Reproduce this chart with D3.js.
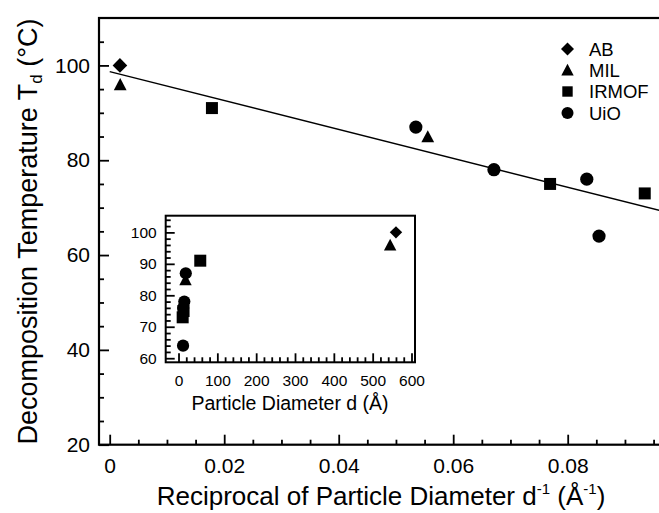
<!DOCTYPE html>
<html>
<head>
<meta charset="utf-8">
<script src="https://cdn.jsdelivr.net/npm/d3@7"></script>
<style>
  html, body { margin: 0; padding: 0; background: #fff; }
  svg { display: block; font-family: "Liberation Sans", Arial, Helvetica, sans-serif; }
</style>
</head>
<body>
<svg id="chart" width="659" height="513"></svg>
<script>
// Framework families and their marker shapes
const seriesNames  = ["AB", "MIL", "IRMOF", "UiO"];
const seriesShapes = ["diamond", "triangle", "square", "circle"];

// Particle diameter d (Å) and decomposition temperature Td (°C) per family
const abDiameter    = [560];
const abTemp        = [100];
const milDiameter   = [545, 18.0];
const milTemp       = [96, 85];
const irmofDiameter = [56, 13.0, 10.7];
const irmofTemp     = [91, 75, 73];
const uioDiameter   = [18.7, 14.9, 12.0, 11.7];
const uioTemp       = [87, 78, 76, 64];

// Linear fit of Td against 1/d
const fitIntercept = 98.7;
const fitSlope     = -305;

// Axis ticks
const mainXTicks  = [0, 0.02, 0.04, 0.06, 0.08];
const mainYTicks  = [20, 40, 60, 80, 100];
const insetXTicks = [0, 100, 200, 300, 400, 500, 600];
const insetYTicks = [60, 70, 80, 90, 100];

const diameters = [abDiameter, milDiameter, irmofDiameter, uioDiameter];
const temps     = [abTemp, milTemp, irmofTemp, uioTemp];
const series = seriesNames.map((name, i) => ({
  name,
  shape: seriesShapes[i],
  points: diameters[i].map((d, j) => ({ d, t: temps[i][j] }))
}));

const svg = d3.select("#chart");

// Marker path centred on (0,0); s = half-size
function markerPath(shape, s) {
  switch (shape) {
    case "diamond":  return `M0,${-s}L${s},0L0,${s}L${-s},0Z`;
    case "triangle": return `M0,${-s}L${s},${s * 0.9}L${-s},${s * 0.9}Z`;
    case "square":   return `M${-s},${-s}H${s}V${s}H${-s}Z`;
    default:         return `M${s},0A${s},${s} 0 1,1 ${-s},0A${s},${s} 0 1,1 ${s},0Z`;
  }
}
const mainSize   = { diamond: 7.3, triangle: 6.4, square: 6, circle: 6.6 };
const insetSize  = { diamond: 6.2, triangle: 6.2, square: 6, circle: 6.1 };
const legendSize = { diamond: 6.5, triangle: 6.2, square: 5.2, circle: 6 };

// ---------- main plot ----------
const x = d3.scaleLinear().domain([-0.00187, 0.1]).range([99, 682.2]);
const y = d3.scaleLinear().domain([20, 110]).range([444.7, 18]);

const mainXMinor = d3.range(0, 0.0999, 0.005).filter(v => Math.abs(v / 0.02 - Math.round(v / 0.02)) > 1e-6);
const mainYMinor = d3.range(25, 109, 5).filter(v => v % 20 !== 0);

function styleAxis(g, fontSize) {
  g.attr("font-family", null).attr("font-size", fontSize);
  g.select(".domain").remove();
  g.selectAll("line").attr("stroke", "#000").attr("stroke-width", 1.8);
  g.selectAll("text").attr("fill", "#000");
}

const fmtMain = v => v === 0 ? "0" : d3.format(".2f")(v);

svg.append("g")
  .attr("transform", `translate(0,${y(20)})`)
  .call(d3.axisBottom(x).tickValues(mainXTicks).tickFormat(fmtMain).tickSize(-10).tickPadding(13))
  .call(g => styleAxis(g, 21));
svg.append("g")
  .attr("transform", `translate(0,${y(20)})`)
  .call(d3.axisBottom(x).tickValues(mainXMinor).tickFormat("").tickSize(-5))
  .call(g => styleAxis(g, 21));

svg.append("g")
  .attr("transform", `translate(${x.range()[0]},0)`)
  .call(d3.axisLeft(y).tickValues(mainYTicks).tickSize(-10).tickPadding(9))
  .call(g => styleAxis(g, 21));
svg.append("g")
  .attr("transform", `translate(${x.range()[0]},0)`)
  .call(d3.axisLeft(y).tickValues(mainYMinor).tickFormat("").tickSize(-5))
  .call(g => styleAxis(g, 21));

// plot frame
svg.append("rect")
  .attr("x", x.range()[0]).attr("y", y.range()[1])
  .attr("width", x.range()[1] - x.range()[0])
  .attr("height", y.range()[0] - y.range()[1])
  .attr("fill", "none").attr("stroke", "#000").attr("stroke-width", 2.2);

// fit line
const fitX = [0, 0.1];
svg.append("path")
  .datum(fitX.map(v => [v, fitIntercept + fitSlope * v]))
  .attr("d", d3.line().x(p => x(p[0])).y(p => y(p[1])))
  .attr("fill", "none").attr("stroke", "#000").attr("stroke-width", 1.4);

// points against 1/d
series.forEach(s => {
  svg.append("g").selectAll("path")
    .data(s.points)
    .join("path")
    .attr("transform", p => `translate(${x(1 / p.d)},${y(p.t)})`)
    .attr("d", markerPath(s.shape, mainSize[s.shape]))
    .attr("fill", "#000");
});

// legend
const legendY = [49, 70, 91.5, 113];
const legend = svg.append("g");
series.forEach((s, i) => {
  legend.append("path")
    .attr("transform", `translate(567.5,${legendY[i]})`)
    .attr("d", markerPath(s.shape, legendSize[s.shape]))
    .attr("fill", "#000");
  legend.append("text")
    .attr("x", 589).attr("y", legendY[i] + 6.5)
    .attr("font-size", 18.5).attr("fill", "#000")
    .text(s.name);
});

// axis titles
const yTitle = svg.append("text")
  .attr("transform", "rotate(-90)")
  .attr("x", -231.5).attr("y", 36.5)
  .attr("text-anchor", "middle").attr("font-size", 27).attr("fill", "#000");
yTitle.append("tspan").text("Decomposition Temperature T");
yTitle.append("tspan").attr("font-size", 17).attr("dy", 5).text("d");
yTitle.append("tspan").attr("dy", -5).text(" (°C)");

const xTitle = svg.append("text")
  .attr("x", 381).attr("y", 505)
  .attr("text-anchor", "middle").attr("font-size", 26).attr("fill", "#000");
xTitle.append("tspan").text("Reciprocal of Particle Diameter d");
xTitle.append("tspan").attr("font-size", 15).attr("dy", -11).text("-1");
xTitle.append("tspan").attr("dy", 11).text(" (Å");
xTitle.append("tspan").attr("font-size", 15).attr("dy", -11).text("-1");
xTitle.append("tspan").attr("dy", 11).text(")");

// ---------- inset: Td against d ----------
const xi = d3.scaleLinear().domain([-33, 609]).range([165.7, 415]);
const yi = d3.scaleLinear().domain([58.7, 105.3]).range([362.3, 215.7]);
const insetXMinor = d3.range(0, 601, 20).filter(v => v % 100 !== 0);
const insetYMinor = d3.range(60, 105, 2).filter(v => v % 10 !== 0);

svg.append("rect")
  .attr("x", xi.range()[0]).attr("y", yi.range()[1])
  .attr("width", xi.range()[1] - xi.range()[0])
  .attr("height", yi.range()[0] - yi.range()[1])
  .attr("fill", "#fff");

svg.append("g")
  .attr("transform", `translate(0,${yi.range()[0]})`)
  .call(d3.axisBottom(xi).tickValues(insetXTicks).tickSize(-9).tickPadding(13))
  .call(g => styleAxis(g, 15.5));
svg.append("g")
  .attr("transform", `translate(0,${yi.range()[0]})`)
  .call(d3.axisBottom(xi).tickValues(insetXMinor).tickFormat("").tickSize(-5))
  .call(g => styleAxis(g, 15.5));
svg.append("g")
  .attr("transform", `translate(${xi.range()[0]},0)`)
  .call(d3.axisLeft(yi).tickValues(insetYTicks).tickSize(-9).tickPadding(9))
  .call(g => styleAxis(g, 15.5));
svg.append("g")
  .attr("transform", `translate(${xi.range()[0]},0)`)
  .call(d3.axisLeft(yi).tickValues(insetYMinor).tickFormat("").tickSize(-5))
  .call(g => styleAxis(g, 15.5));

svg.append("rect")
  .attr("x", xi.range()[0]).attr("y", yi.range()[1])
  .attr("width", xi.range()[1] - xi.range()[0])
  .attr("height", yi.range()[0] - yi.range()[1])
  .attr("fill", "none").attr("stroke", "#000").attr("stroke-width", 2);

series.forEach(s => {
  svg.append("g").selectAll("path")
    .data(s.points)
    .join("path")
    .attr("transform", p => `translate(${xi(p.d)},${yi(p.t)})`)
    .attr("d", markerPath(s.shape, insetSize[s.shape]))
    .attr("fill", "#000");
});

svg.append("text")
  .attr("x", 290).attr("y", 410)
  .attr("text-anchor", "middle").attr("font-size", 19.5).attr("fill", "#000")
  .text("Particle Diameter d (Å)");
</script>
</body>
</html>
